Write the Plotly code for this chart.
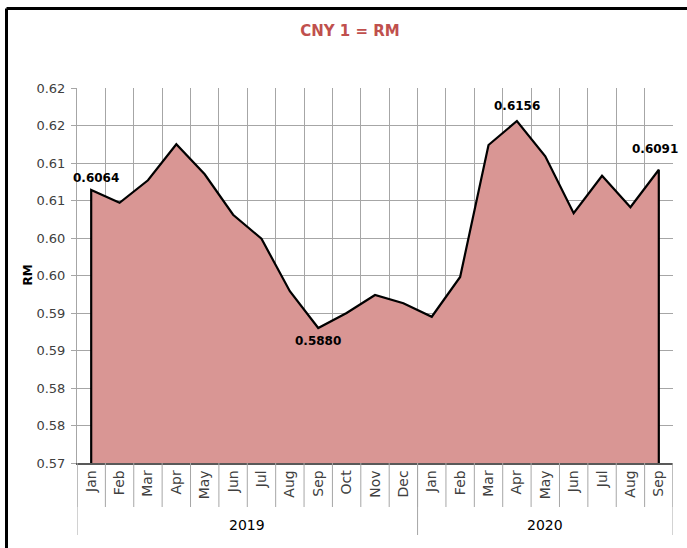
import plotly.graph_objects as go

# ---- data ----
YEARS = ["2019"] * 12 + ["2020"] * 9
MONTHS = ["Jan", "Feb", "Mar", "Apr", "May", "Jun", "Jul", "Aug", "Sep", "Oct", "Nov", "Dec",
          "Jan", "Feb", "Mar", "Apr", "May", "Jun", "Jul", "Aug", "Sep"]
RATES = [0.6064, 0.6047, 0.6077, 0.6125, 0.6085, 0.6031, 0.5999, 0.5929, 0.5880, 0.5900,
         0.5924, 0.5913, 0.5895, 0.5948, 0.6124, 0.6156, 0.6109, 0.6033, 0.6083, 0.6041, 0.6091]
YTICK_VALUES = [0.570, 0.575, 0.580, 0.585, 0.590, 0.595, 0.600, 0.605, 0.610, 0.615, 0.620]
YTICK_LABELS = ["0.57", "0.58", "0.58", "0.59", "0.59", "0.60", "0.60", "0.61", "0.61", "0.62", "0.62"]
Y_MIN, Y_MAX = 0.570, 0.620
TITLE = "CNY 1 = RM"

FONT = "DejaVu Sans"
GRID = "#a6a6a6"
TXT = "#404040"

cats = [f"{y} {m}" for y, m in zip(YEARS, MONTHS)]
n = len(cats)

# labelled points: first, min, max, last  -> (xshift, yshift) in px
min_i = RATES.index(min(RATES))
max_i = RATES.index(max(RATES))
label_offsets = {0: (5, 12), min_i: (0, -13), max_i: (0, 15), n - 1: (-4, 21)}

fig = go.Figure()
fig.add_trace(go.Scatter(
    x=[cats[0]] + cats + [cats[-1]],
    y=[Y_MIN] + RATES + [Y_MIN],
    mode="lines", fill="toself", fillcolor="#d99694",
    line=dict(color="black", width=2.2), hoverinfo="skip", showlegend=False,
))

PH = 375.0  # plot height px
PW = 596.0  # plot width px
shapes = []
for i in range(n + 1):
    shapes.append(dict(type="line", xref="x", yref="paper", x0=i - 0.5, x1=i - 0.5,
                       y0=0, y1=-44 / PH, line=dict(color=GRID, width=1)))
bounds = [0]
for i in range(1, n):
    if YEARS[i] != YEARS[i - 1]:
        bounds.append(i)
bounds.append(n)
for b in bounds:
    shapes.append(dict(type="line", xref="x", yref="paper", x0=b - 0.5, x1=b - 0.5,
                       y0=0, y1=-72 / PH, line=dict(color=GRID, width=1)))
# outer border (top and left)
shapes.append(dict(type="line", xref="paper", yref="paper", x0=-70.5 / PW, x1=1.1,
                   y0=(463 - 8.5) / PH, y1=(463 - 8.5) / PH, line=dict(color="black", width=3)))
shapes.append(dict(type="line", xref="paper", yref="paper", x0=-70.5 / PW, x1=-70.5 / PW,
                   y0=-0.3, y1=(463 - 8.5) / PH, line=dict(color="black", width=3)))

annotations = []
for i, (dx, dy) in label_offsets.items():
    annotations.append(dict(x=cats[i], y=RATES[i], xref="x", yref="y",
                            text=f"<b>{RATES[i]:.4f}</b>", showarrow=False,
                            xshift=dx, yshift=dy, xanchor="center", yanchor="middle",
                            font=dict(family=FONT, size=12, color="black")))
for k in range(len(bounds) - 1):
    a, b = bounds[k], bounds[k + 1]
    annotations.append(dict(x=(a - 0.5 + b - 0.5) / 2, xref="x", y=-62 / PH, yref="paper",
                            text=YEARS[a], showarrow=False, yanchor="middle",
                            font=dict(family=FONT, size=14, color="black")))
annotations.append(dict(x=-59 / PW, xref="paper", y=0.5, yref="paper", text="<b>RM</b>",
                        textangle=-90, showarrow=False,
                        font=dict(family=FONT, size=12, color="black")))

fig.update_layout(
    width=687, height=548,
    margin=dict(l=77, r=14, t=88, b=85, pad=0),
    paper_bgcolor="white", plot_bgcolor="white",
    title=dict(text=f"<b>{TITLE}</b>", x=350 / 687, xref="container", xanchor="center",
               y=1 - 31 / 548, yref="container", yanchor="middle",
               font=dict(family=FONT, size=15, color="#c0504d")),
    shapes=shapes, annotations=annotations,
    font=dict(family=FONT, color=TXT),
)
fig.update_xaxes(
    type="category", categoryorder="array", categoryarray=cats,
    tickvals=cats, ticktext=MONTHS, tickangle=-90, tickson="boundaries",
    ticks="", showgrid=True, gridcolor=GRID, gridwidth=1,
    showline=True, linecolor="#595959", linewidth=1.5,
    range=[-0.5, n - 0.5], tickfont=dict(family=FONT, size=14, color=TXT),
    zeroline=False,
)
fig.update_yaxes(
    range=[Y_MIN, Y_MAX], tickvals=YTICK_VALUES, ticktext=YTICK_LABELS,
    ticks="outside", ticklen=5, tickcolor=GRID, showgrid=True, gridcolor=GRID,
    showline=True, linecolor=GRID, linewidth=1, zeroline=False,
    ticklabelstandoff=3,
    tickfont=dict(family=FONT, size=13, color=TXT),
)

fig.write_html("out.html", config={"displayModeBar": False},
               post_script="document.body.style.margin='0';document.body.style.overflow='hidden';")
